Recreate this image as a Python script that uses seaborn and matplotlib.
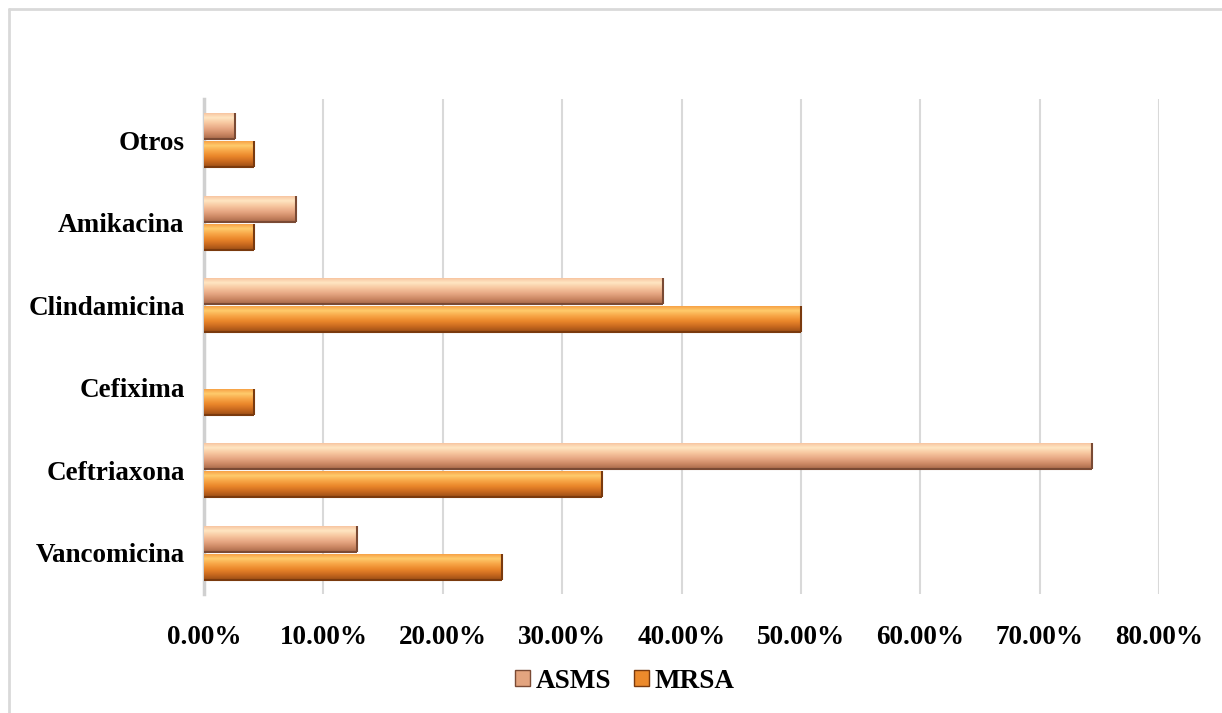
import numpy as np
import pandas as pd
import matplotlib
matplotlib.use("Agg")
import matplotlib.pyplot as plt
import seaborn as sns
from matplotlib.colors import LinearSegmentedColormap
from matplotlib.ticker import FuncFormatter, MultipleLocator
from matplotlib.lines import Line2D

categories = ["Otros", "Amikacina", "Clindamicina", "Cefixima", "Ceftriaxona", "Vancomicina"]
asms = [0.0256, 0.0769, 0.3846, 0.0, 0.7436, 0.1282]
mrsa = [0.0417, 0.0417, 0.5000, 0.0417, 0.3333, 0.2500]
series = ["ASMS", "MRSA"]

df = pd.DataFrame({
    "Antibiótico": categories * 2,
    "Serie": [series[0]] * len(categories) + [series[1]] * len(categories),
    "Valor": asms + mrsa,
})

sns.set_theme(style="white")
plt.rcParams["font.family"] = ["Liberation Serif", "DejaVu Serif"]
plt.rcParams["font.weight"] = "bold"
plt.rcParams["text.color"] = "black"
plt.rcParams["xtick.color"] = "black"
plt.rcParams["ytick.color"] = "black"

W, H = 1222, 713
fig = plt.figure(figsize=(W / 100, H / 100), dpi=100)
ax = fig.add_axes([204 / W, 1 - 594 / H, (1159 - 204) / W, (594 - 99) / H])

palette = {"ASMS": "#E3A47F", "MRSA": "#EC8A2C"}
sns.barplot(data=df, y="Antibiótico", x="Valor", hue="Serie", order=categories,
            hue_order=series, palette=palette, orient="h", width=0.68, gap=0.07,
            edgecolor="none", saturation=1, ax=ax)

grads = {
    "ASMS": ["#F6BE9A", "#FFE6C2", "#F7C7A0", "#E8A985", "#CE8A66", "#A8694A"],
    "MRSA": ["#F59A3E", "#FFCB6C", "#F7A546", "#EA862A", "#C9691F", "#9A4E15"],
}
edges = {"ASMS": "#7A4A34", "MRSA": "#7A3A0E"}
n = len(categories)
patches = list(ax.patches)[: 2 * n]
for i, p in enumerate(patches):
    s = series[i // n]
    x0, y0 = p.get_x(), p.get_y()
    w, h = p.get_width(), p.get_height()
    if w <= 0:
        p.set_visible(False)
        continue
    cmap = LinearSegmentedColormap.from_list(s, grads[s])
    grad = np.linspace(0, 1, 64).reshape(-1, 1)
    im = ax.imshow(grad, cmap=cmap, aspect="auto", extent=[x0, x0 + w, y0 + h, y0],
                   origin="upper", zorder=3, interpolation="bilinear")
    im.set_clip_path(p)
    p.set_zorder(2)
    ax.plot([x0 + w, x0 + w], [y0, y0 + h], color=edges[s], lw=1.5, zorder=4,
            solid_capstyle="butt")
    ax.plot([x0, x0 + w], [y0 + h, y0 + h], color=edges[s], lw=1.5, zorder=4,
            solid_capstyle="butt")

ax.set_xlim(0, 0.8)
ax.set_ylim(n - 0.5, -0.5)
ax.xaxis.set_major_locator(MultipleLocator(0.1))
ax.xaxis.set_major_formatter(FuncFormatter(lambda v, _: f"{v * 100:.2f}%"))
ax.grid(axis="x", color="#D9D9D9", lw=1.5, zorder=0)
ax.set_axisbelow(True)
ax.set_xlabel("")
ax.set_ylabel("")
for sp in ["top", "right", "bottom"]:
    ax.spines[sp].set_visible(False)
ax.spines["left"].set_color("#D0D0D0")
ax.spines["left"].set_linewidth(2.5)
ax.tick_params(axis="x", length=0, pad=22, labelsize=19.5, labelcolor="black")
ax.tick_params(axis="y", length=0, pad=14, labelsize=19.5, labelcolor="black")
for t in ax.get_xticklabels() + ax.get_yticklabels():
    t.set_fontweight("bold")

handles = [plt.Rectangle((0, 0), 1, 1, facecolor=palette[s], edgecolor=edges[s], lw=1)
           for s in series]
leg = ax.legend(handles, series, loc="center", bbox_to_anchor=(625 / W, 1 - 681 / H),
                bbox_transform=fig.transFigure, ncol=2, frameon=False,
                prop={"family": "Liberation Serif", "weight": "bold", "size": 19.5},
                handlelength=0.55, handleheight=0.55, handletextpad=0.2,
                columnspacing=0.85)
for t in leg.get_texts():
    t.set_color("black")

fig.add_artist(Line2D([9 / W, 1], [1 - 9 / H, 1 - 9 / H], color="#D9D9D9", lw=2,
                      transform=fig.transFigure))
fig.add_artist(Line2D([9 / W, 9 / W], [0, 1 - 9 / H], color="#D9D9D9", lw=2,
                      transform=fig.transFigure))

fig.savefig("out.png", dpi=100)
